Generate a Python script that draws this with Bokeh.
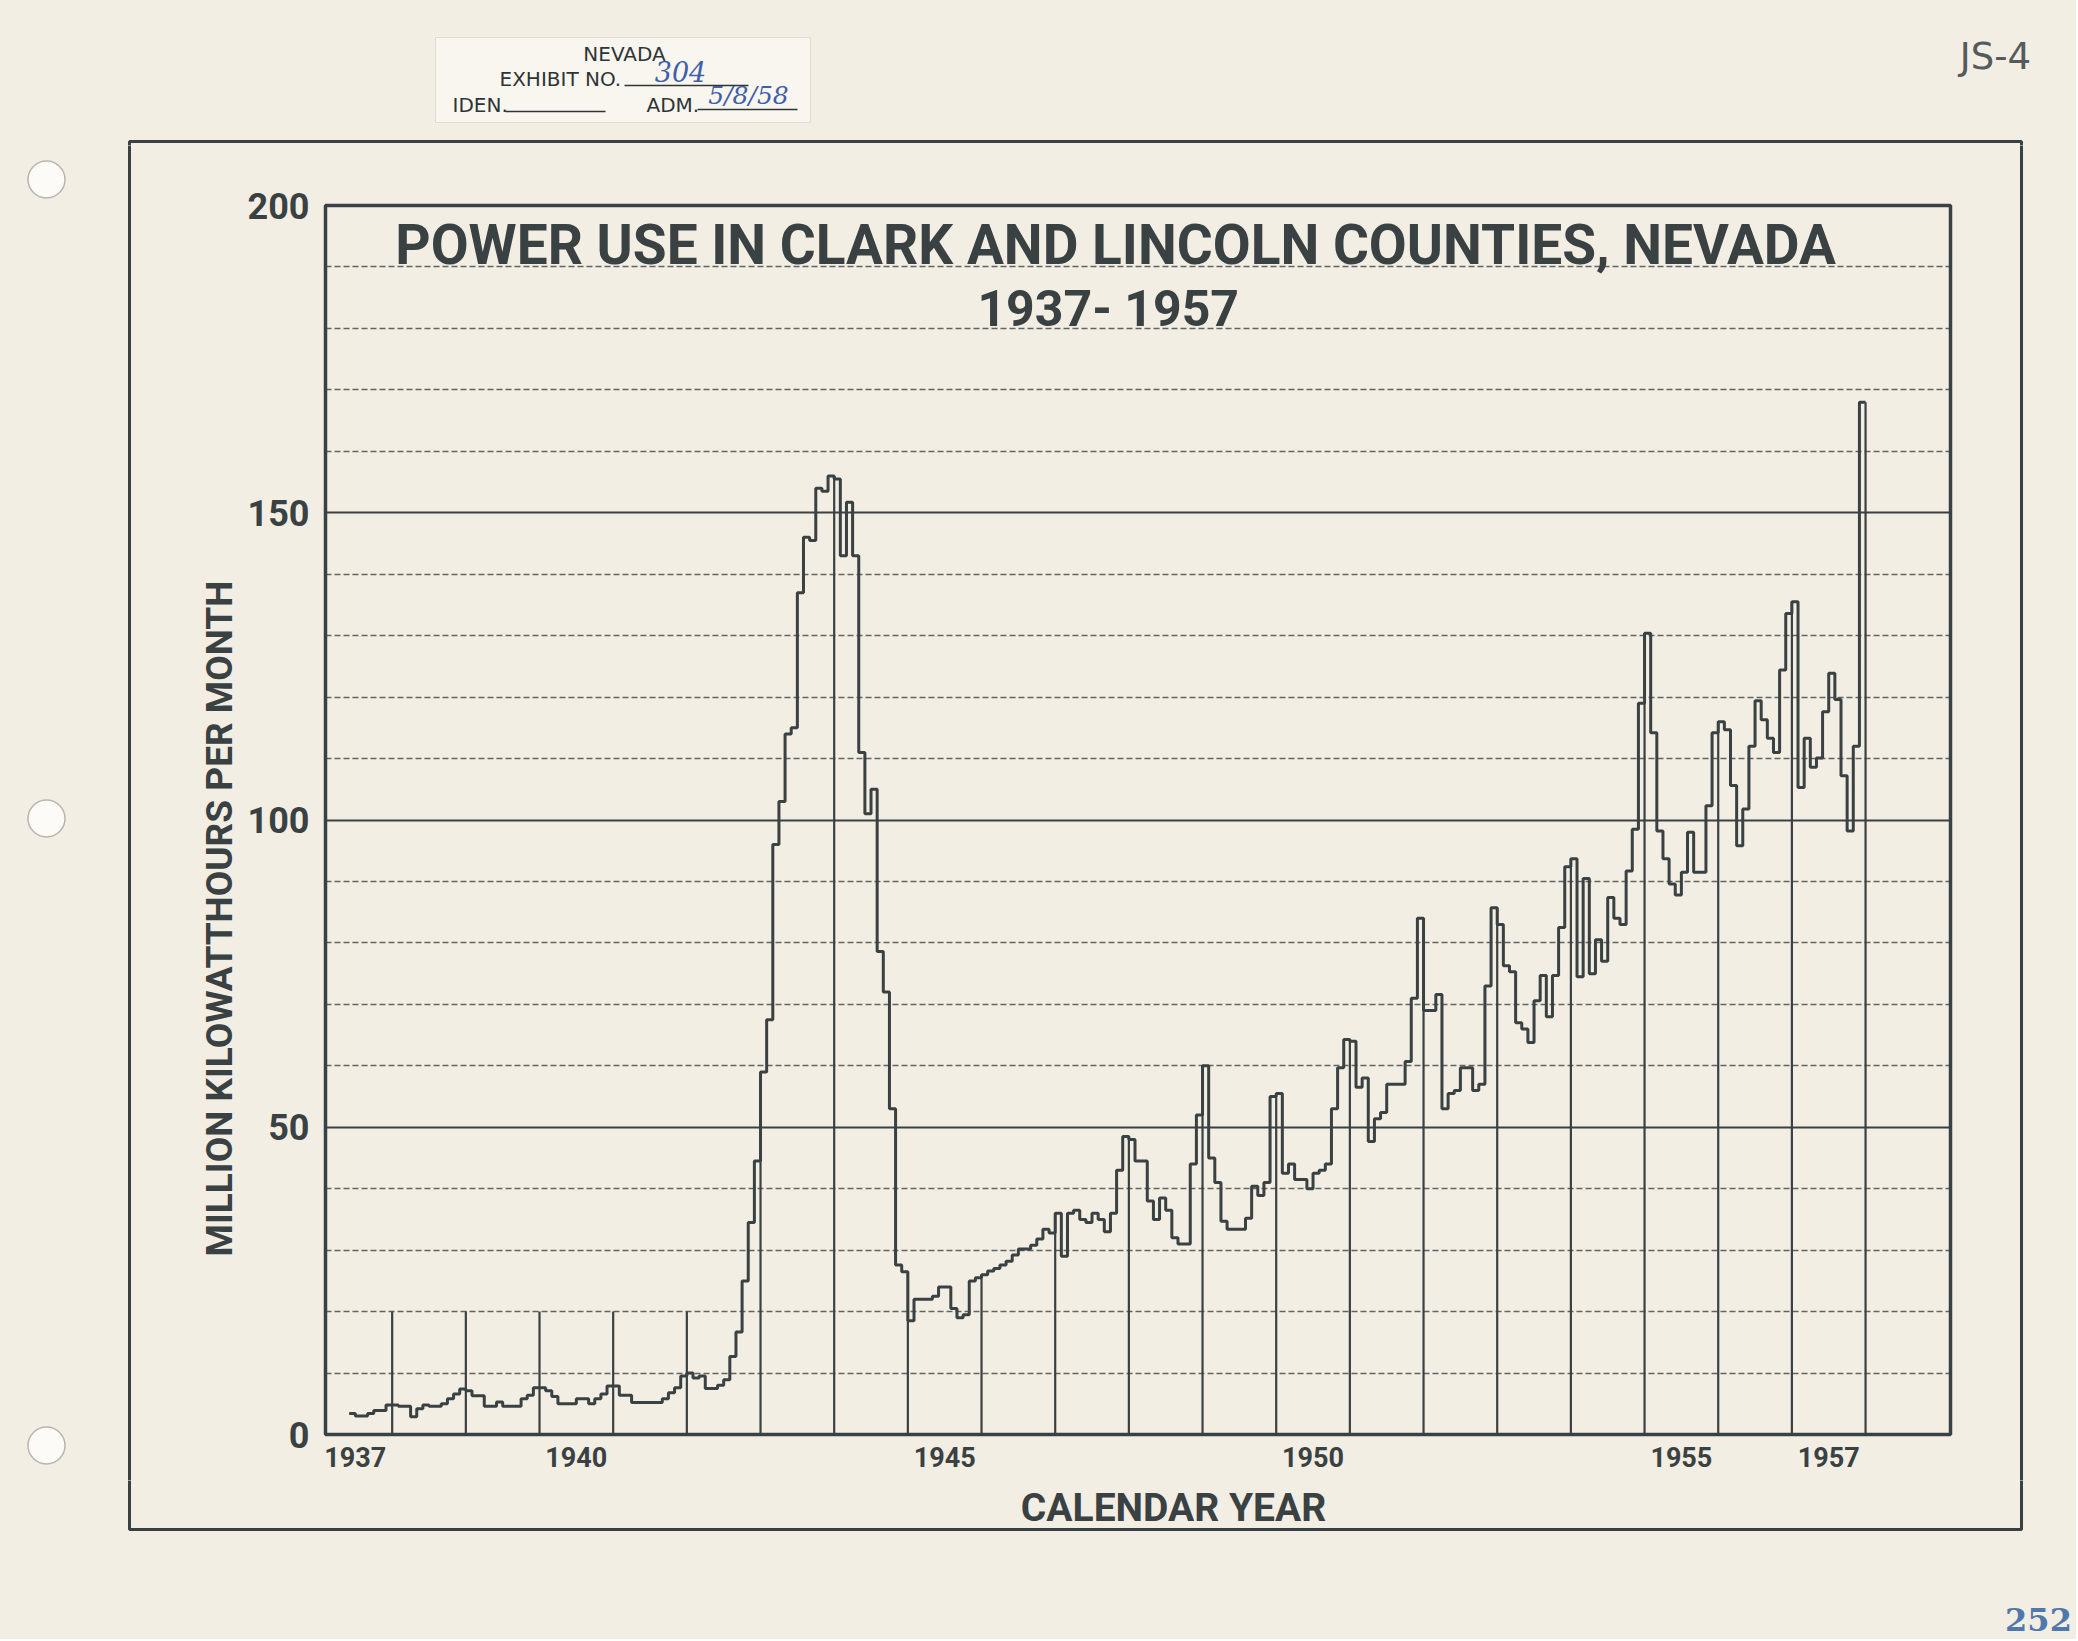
import math
from bokeh.plotting import figure
from bokeh.layouts import column, row
from bokeh.models import (Range1d, FixedTicker, Grid, Label, ColumnDataSource,
                          CustomJSTickFormatter)
from bokeh.embed import file_html
from bokeh.resources import INLINE

# ---------------- data (million kWh per month) ----------------
START_YEAR = 1937
START_MONTH = 6          # first plotted month: June 1937
use_1937 = [3.4, 3.0, 3.0, 3.4, 3.9, 3.9, 4.8]
use_1938 = [4.8, 4.6, 4.6, 2.9, 4.2, 4.8, 4.6, 4.6, 5.0, 5.8, 6.6, 7.4]
use_1939 = [7.1, 6.3, 6.3, 4.6, 4.6, 5.3, 4.6, 4.6, 4.6, 5.8, 6.4, 7.6]
use_1940 = [7.6, 7.1, 6.2, 5.0, 5.0, 5.0, 5.8, 5.8, 5.0, 5.8, 6.6, 7.9]
use_1941 = [7.9, 6.4, 6.4, 5.2, 5.2, 5.2, 5.2, 5.2, 5.8, 6.8, 7.6, 9.5]
use_1942 = [10.0, 9.2, 9.5, 7.5, 7.5, 8.0, 8.9, 12.7, 16.7, 25.0, 34.5, 44.5]
use_1943 = [59.0, 67.5, 96.0, 103.0, 114.0, 115.0, 137.0, 146.0, 145.5, 154.0, 153.5, 156.0]
use_1944 = [155.5, 143.0, 151.7, 143.0, 111.0, 101.0, 105.0, 78.6, 72.0, 53.0, 27.6, 26.5]
use_1945 = [18.5, 22.0, 22.0, 22.0, 22.5, 24.0, 24.0, 20.5, 19.0, 19.5, 25.0, 25.5]
use_1946 = [26.0, 26.6, 27.0, 27.6, 28.2, 29.2, 30.2, 30.2, 30.8, 31.8, 33.4, 32.8]
use_1947 = [36.0, 29.0, 36.0, 36.5, 35.0, 34.5, 36.0, 35.0, 33.0, 36.0, 43.0, 48.5]
use_1948 = [48.0, 44.5, 44.5, 38.0, 35.0, 38.5, 36.5, 32.0, 31.0, 31.0, 44.0, 52.0]
use_1949 = [60.0, 45.0, 41.0, 34.7, 33.4, 33.4, 33.4, 35.2, 40.4, 38.9, 41.0, 55.0]
use_1950 = [55.5, 42.5, 44.0, 41.5, 41.5, 40.0, 42.5, 43.0, 44.0, 53.0, 59.7, 64.3]
use_1951 = [64.0, 56.5, 58.0, 47.7, 51.4, 52.4, 57.0, 57.0, 57.0, 60.7, 71.0, 84.0]
use_1952 = [69.0, 69.0, 71.6, 53.0, 55.5, 56.0, 59.7, 59.7, 56.0, 57.0, 73.0, 85.7]
use_1953 = [83.0, 76.3, 75.3, 67.0, 66.0, 63.8, 70.6, 74.7, 68.0, 74.7, 82.5, 92.4]
use_1954 = [93.7, 74.5, 90.5, 75.0, 80.5, 77.0, 87.4, 84.0, 83.0, 91.7, 98.5, 119.0]
use_1955 = [130.4, 114.2, 98.2, 93.7, 89.6, 87.8, 91.5, 98.0, 91.5, 91.5, 102.3, 114.2]
use_1956 = [116.0, 114.7, 105.6, 95.8, 101.8, 112.0, 119.4, 116.3, 113.3, 111.0, 124.4, 133.6]
use_1957 = [135.5, 105.3, 113.3, 108.6, 110.1, 117.6, 123.9, 119.6, 107.2, 98.2, 112.0, 168.0]

year_tick_labels = [1937, 1940, 1945, 1950, 1955, 1957]
value_ticks = [0, 50, 100, 150, 200]
title_line1 = "POWER USE IN CLARK AND LINCOLN COUNTIES, NEVADA"
title_line2 = "1937- 1957"
x_title = "CALENDAR YEAR"
y_title = "MILLION KILOWATTHOURS PER MONTH"

monthly_use = (use_1937 + use_1938 + use_1939 + use_1940 + use_1941 + use_1942 +
               use_1943 + use_1944 + use_1945 + use_1946 + use_1947 + use_1948 +
               use_1949 + use_1950 + use_1951 + use_1952 + use_1953 + use_1954 +
               use_1955 + use_1956 + use_1957)

# ---------------- styling / page geometry (page pixels) ----------------
PAPER = "#F3EEE3"
INK = "#3A4142"
BLUE = "#3F5FA8"
PAGE_W, PAGE_H = 2076, 1639
HDR_H = 145            # header strip height
ROW_B = 1480           # bottom of the middle row
L_W = 244              # left strip width
M_R = 2018             # right edge of main figure
BORDER = dict(left=129, right=2021, top=141, bottom=1529)


def no_align(f):
    try:
        f.frame_align = False
    except Exception:
        pass


def deco_fig(x0, x1, y0, y1):
    f = figure(width=int(x1 - x0), height=int(y1 - y0), output_backend="svg",
               toolbar_location=None, x_range=Range1d(x0, x1), y_range=Range1d(y1, y0),
               x_axis_location=None, y_axis_location=None, min_border=0,
               background_fill_color=PAPER, border_fill_color=PAPER)
    f.outline_line_color = None
    f.xgrid.visible = False
    f.ygrid.visible = False
    no_align(f)
    # the page's outer frame; every strip shows its own part of it
    f.quad(left=[BORDER["left"]], right=[BORDER["right"]], top=[BORDER["top"]],
           bottom=[BORDER["bottom"]], fill_alpha=0, line_color=INK, line_width=3)
    return f


def txt(f, x, y, text, size, color=INK, font="DejaVu Sans", style="normal",
        align="left", angle=0.0):
    f.add_layout(Label(x=x, y=y, text=text, text_align=align, text_baseline="middle",
                       text_font=font, text_font_style=style, text_font_size=size,
                       text_color=color, angle=angle))


# ---------------- main chart ----------------
month_x = [START_YEAR + (START_MONTH - 1 + i) / 12.0 for i in range(len(monthly_use))]
step_x = month_x + [month_x[-1] + 1.0 / 12.0]
step_y = monthly_use + [monthly_use[-1]]

# plot box: x 325..1950, y 205..1434 (page px); Jan-1937 at x=318, 73.67 px/yr
p = figure(width=M_R - L_W, height=ROW_B - HDR_H, output_backend="svg",
           toolbar_location=None,
           x_range=Range1d(1937.095, 1959.153), y_range=Range1d(0, 200),
           background_fill_color=PAPER, border_fill_color=PAPER)
no_align(p)
p.min_border_left = 325 - L_W
p.min_border_right = M_R - 1950
p.min_border_top = 205 - HDR_H
p.min_border_bottom = ROW_B - 1434
p.outline_line_color = INK
p.outline_line_width = 3.5

p.xgrid.visible = False
p.ygrid.ticker = FixedTicker(ticks=[50, 100, 150])
p.ygrid.grid_line_color = INK
p.ygrid.grid_line_width = 2.0
minor = [v for v in range(10, 200, 10) if v % 50 != 0]
p.add_layout(Grid(dimension=1, ticker=FixedTicker(ticks=minor),
                  grid_line_color=INK, grid_line_alpha=0.8,
                  grid_line_width=1.3, grid_line_dash="6 3"))

# vertical year lines (up to 20, or up to the curve where it is higher)
seg_x, seg_top = [], []
for b in range(START_YEAR + 1, 1959):
    before = (b - START_YEAR) * 12 - (START_MONTH - 1) - 1
    vals = [monthly_use[k] for k in (before, before + 1) if 0 <= k < len(monthly_use)]
    seg_x.append(b)
    seg_top.append(max([20] + vals))
seg_src = ColumnDataSource(dict(x=seg_x, y0=[0] * len(seg_x), y1=seg_top))
p.segment(x0="x", y0="y0", x1="x", y1="y1", source=seg_src,
          line_color=INK, line_width=2.2)

p.step(step_x, step_y, mode="after", line_color=INK, line_width=3.0)

for ax in (p.xaxis[0], p.yaxis[0]):
    ax.axis_line_color = None
    ax.major_tick_line_color = None
    ax.minor_tick_line_color = None
    ax.major_label_text_font = "Roboto"
    ax.major_label_text_font_style = "bold"
    ax.major_label_text_color = INK

p.xaxis.ticker = FixedTicker(ticks=[y + 0.5 for y in year_tick_labels])
p.xaxis.formatter = CustomJSTickFormatter(code="return String(Math.floor(tick));")
p.xaxis.major_label_text_font_size = "27px"
p.xaxis.major_label_standoff = 6

p.yaxis.ticker = FixedTicker(ticks=value_ticks)
p.yaxis.major_label_text_font_size = "36px"
p.yaxis.major_label_standoff = 10

p.add_layout(Label(x=1947.82, y=193.5, text=title_line1, text_align="center",
                   text_baseline="middle", text_font="Roboto", text_font_style="bold",
                   text_font_size="55px", text_color=INK))
p.add_layout(Label(x=1947.72, y=183.1, text=title_line2, text_align="center",
                   text_baseline="middle", text_font="Roboto", text_font_style="bold",
                   text_font_size="50px", text_color=INK))

# ---------------- header strip: exhibit stamp and sheet mark ----------------
hdr = deco_fig(0, PAGE_W, 0, HDR_H)
hdr.quad(left=[435], right=[810], top=[37], bottom=[122],
         fill_color="#F8F6EF", line_color="#E0DCD2", line_width=1)
STAMP = "#2F3535"
txt(hdr, 624, 53, "NEVADA", "20px", color=STAMP, align="center")
txt(hdr, 499, 78, "EXHIBIT NO.", "20px", color=STAMP)
txt(hdr, 452, 104, "IDEN.", "20px", color=STAMP)
txt(hdr, 646, 104, "ADM.", "20px", color=STAMP)
hdr.segment(x0=[624, 505, 697], y0=[85, 111, 109], x1=[748, 605, 797], y1=[85, 111, 109],
            line_color=STAMP, line_width=1.4)
txt(hdr, 680, 71, "304", "27px", color=BLUE, font="DejaVu Serif", style="italic",
    align="center")
txt(hdr, 748, 95, "5/8/58", "25px", color=BLUE, font="DejaVu Serif", style="italic",
    align="center")
txt(hdr, 1995, 56, "JS-4", "37px", color="#555B5C", align="center")

# ---------------- left strip: binder holes and the y-axis title ----------------
left = deco_fig(0, L_W, HDR_H, ROW_B)
left.scatter(x=[46, 46, 46], y=[179, 818, 1445], size=37, fill_color="#FCFBF8",
             line_color="#B9B5AC", line_width=1.5)
txt(left, 219, 918, y_title, "37px", font="Roboto", style="bold", align="center",
    angle=math.pi / 2)

# ---------------- right strip ----------------
right = deco_fig(M_R, PAGE_W, HDR_H, ROW_B)

# ---------------- footer strip: x-axis title and page number ----------------
ftr = deco_fig(0, PAGE_W, ROW_B, PAGE_H)
txt(ftr, 1173, 1507, x_title, "39px", font="Roboto", style="bold", align="center")
txt(ftr, 2038, 1619, "252", "32px", color="#5078AE", font="DejaVu Serif", style="bold",
    align="center")

mid = row(left, p, right, styles={"background-color": PAPER})
page = column(hdr, mid, ftr, styles={"background-color": PAPER})
open("out.html", "w").write(file_html(page, INLINE))
